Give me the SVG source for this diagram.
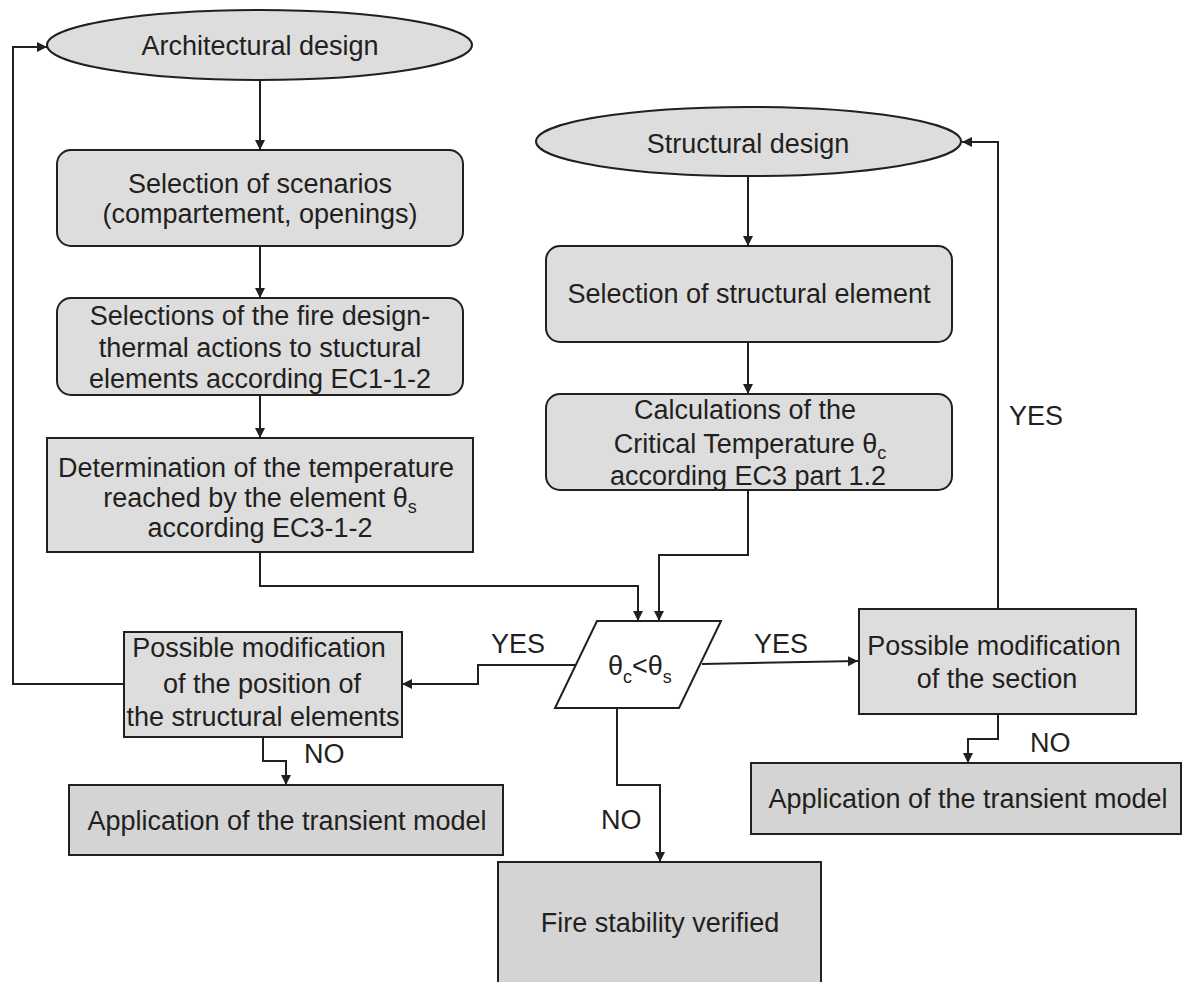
<svg xmlns="http://www.w3.org/2000/svg" width="1184" height="982" viewBox="0 0 1184 982">
<defs>
<style>
.sh{fill:#dddddd;stroke:#231f20;stroke-width:2}
.sd{fill:#d4d4d4;stroke:#231f20;stroke-width:2}
.wh{fill:#ffffff;stroke:#231f20;stroke-width:2}
text{font-family:"Liberation Sans",Arial,Helvetica,sans-serif;font-size:27px;fill:#231f20}
.c{text-anchor:middle}
.sub{font-size:18px}
.ln{fill:none;stroke:#231f20;stroke-width:2;marker-end:url(#ah)}
.ln2{fill:none;stroke:#231f20;stroke-width:2}
</style>
<marker id="ah" markerUnits="userSpaceOnUse" markerWidth="12" markerHeight="12" refX="10" refY="5" orient="auto">
<path d="M0,0 L10,5 L0,10 z" fill="#231f20"/>
</marker>
</defs>
<rect width="1184" height="982" fill="#ffffff"/>

<g id="connectors">
<path class="ln" d="M260,80 V150"/>
<path class="ln" d="M260,246 V298"/>
<path class="ln" d="M260,395 V438"/>
<path class="ln" d="M260,552 V586 H638 V621"/>
<path class="ln" d="M748,176 V246"/>
<path class="ln" d="M748,342 V394"/>
<path class="ln" d="M748,490 V555 H659 V621"/>
<path class="ln" d="M576,665 H478 V684 H402"/>
<path class="ln" d="M702,664 L858,661"/>
<path class="ln" d="M617,708 V785 H660 V862"/>
<path class="ln" d="M124,684 H13 V47 H47"/>
<path class="ln" d="M263,737 V761 H286 V785"/>
<path class="ln" d="M998,609 V142 H962"/>
<path class="ln" d="M998,714 V739 H968 V763"/>
<text x="491" y="653">YES</text>
<text x="754" y="653">YES</text>
<text x="601" y="829">NO</text>
<text x="304" y="763">NO</text>
<text x="1009" y="425">YES</text>
<text x="1030" y="752">NO</text>
</g>

<g id="arch">
<ellipse class="sh" cx="259.5" cy="45" rx="212.5" ry="35"/>
<text class="c" x="260" y="55">Architectural design</text>
</g>

<g id="scenarios">
<rect class="sh" x="57" y="150" width="406" height="96" rx="14"/>
<text class="c" x="260" y="193">Selection of scenarios</text>
<text class="c" x="260" y="223">(compartement, openings)</text>
</g>

<g id="thermal">
<rect class="sh" x="57" y="298" width="406" height="97" rx="14"/>
<text class="c" x="260" y="325">Selections of the fire design-</text>
<text class="c" x="260" y="357">thermal actions to stuctural</text>
<text class="c" x="260" y="388">elements according EC1-1-2</text>
</g>

<g id="determination">
<rect class="sh" x="47" y="438" width="426" height="114"/>
<text class="c" x="256" y="477">Determination of the temperature</text>
<text class="c" x="260" y="507">reached by the element θ<tspan class="sub" dy="6">s</tspan></text>
<text class="c" x="260" y="537">according EC3-1-2</text>
</g>

<g id="struct">
<ellipse class="sh" cx="748.5" cy="141.5" rx="212.5" ry="34.5"/>
<text class="c" x="748" y="153">Structural design</text>
</g>

<g id="element">
<rect class="sh" x="546" y="246" width="406" height="96" rx="14"/>
<text class="c" x="749" y="303">Selection of structural element</text>
</g>

<g id="critical">
<rect class="sh" x="546" y="394" width="406" height="96" rx="14"/>
<text class="c" x="745" y="419">Calculations of the</text>
<text class="c" x="750" y="453">Critical Temperature θ<tspan class="sub" dy="6">c</tspan></text>
<text class="c" x="748" y="485">according EC3 part 1.2</text>
</g>

<g id="decision">
<polygon class="wh" points="597,621 721,621 679,708 555,708"/>
<text x="608" y="675">θ<tspan class="sub" dy="8">c</tspan><tspan dy="-8">&lt;θ</tspan><tspan class="sub" dy="8">s</tspan></text>
</g>

<g id="modpos">
<rect class="sh" x="124" y="632" width="278" height="105"/>
<text class="c" x="259" y="657">Possible modification</text>
<text class="c" x="262" y="693">of the position of</text>
<text class="c" x="263" y="726">the structural elements</text>
</g>

<g id="modsec">
<rect class="sh" x="859" y="609" width="277" height="105"/>
<text class="c" x="994" y="655">Possible modification</text>
<text class="c" x="997" y="688">of the section</text>
</g>

<g id="appleft">
<rect class="sd" x="69" y="785" width="434" height="70"/>
<text class="c" x="287" y="830">Application of the transient model</text>
</g>

<g id="appright">
<rect class="sd" x="751" y="763" width="430" height="71"/>
<text class="c" x="968" y="808">Application of the transient model</text>
</g>

<g id="fire">
<rect class="sd" x="498" y="862" width="323" height="130"/>
<text class="c" x="660" y="932">Fire stability verified</text>
</g>
</svg>
